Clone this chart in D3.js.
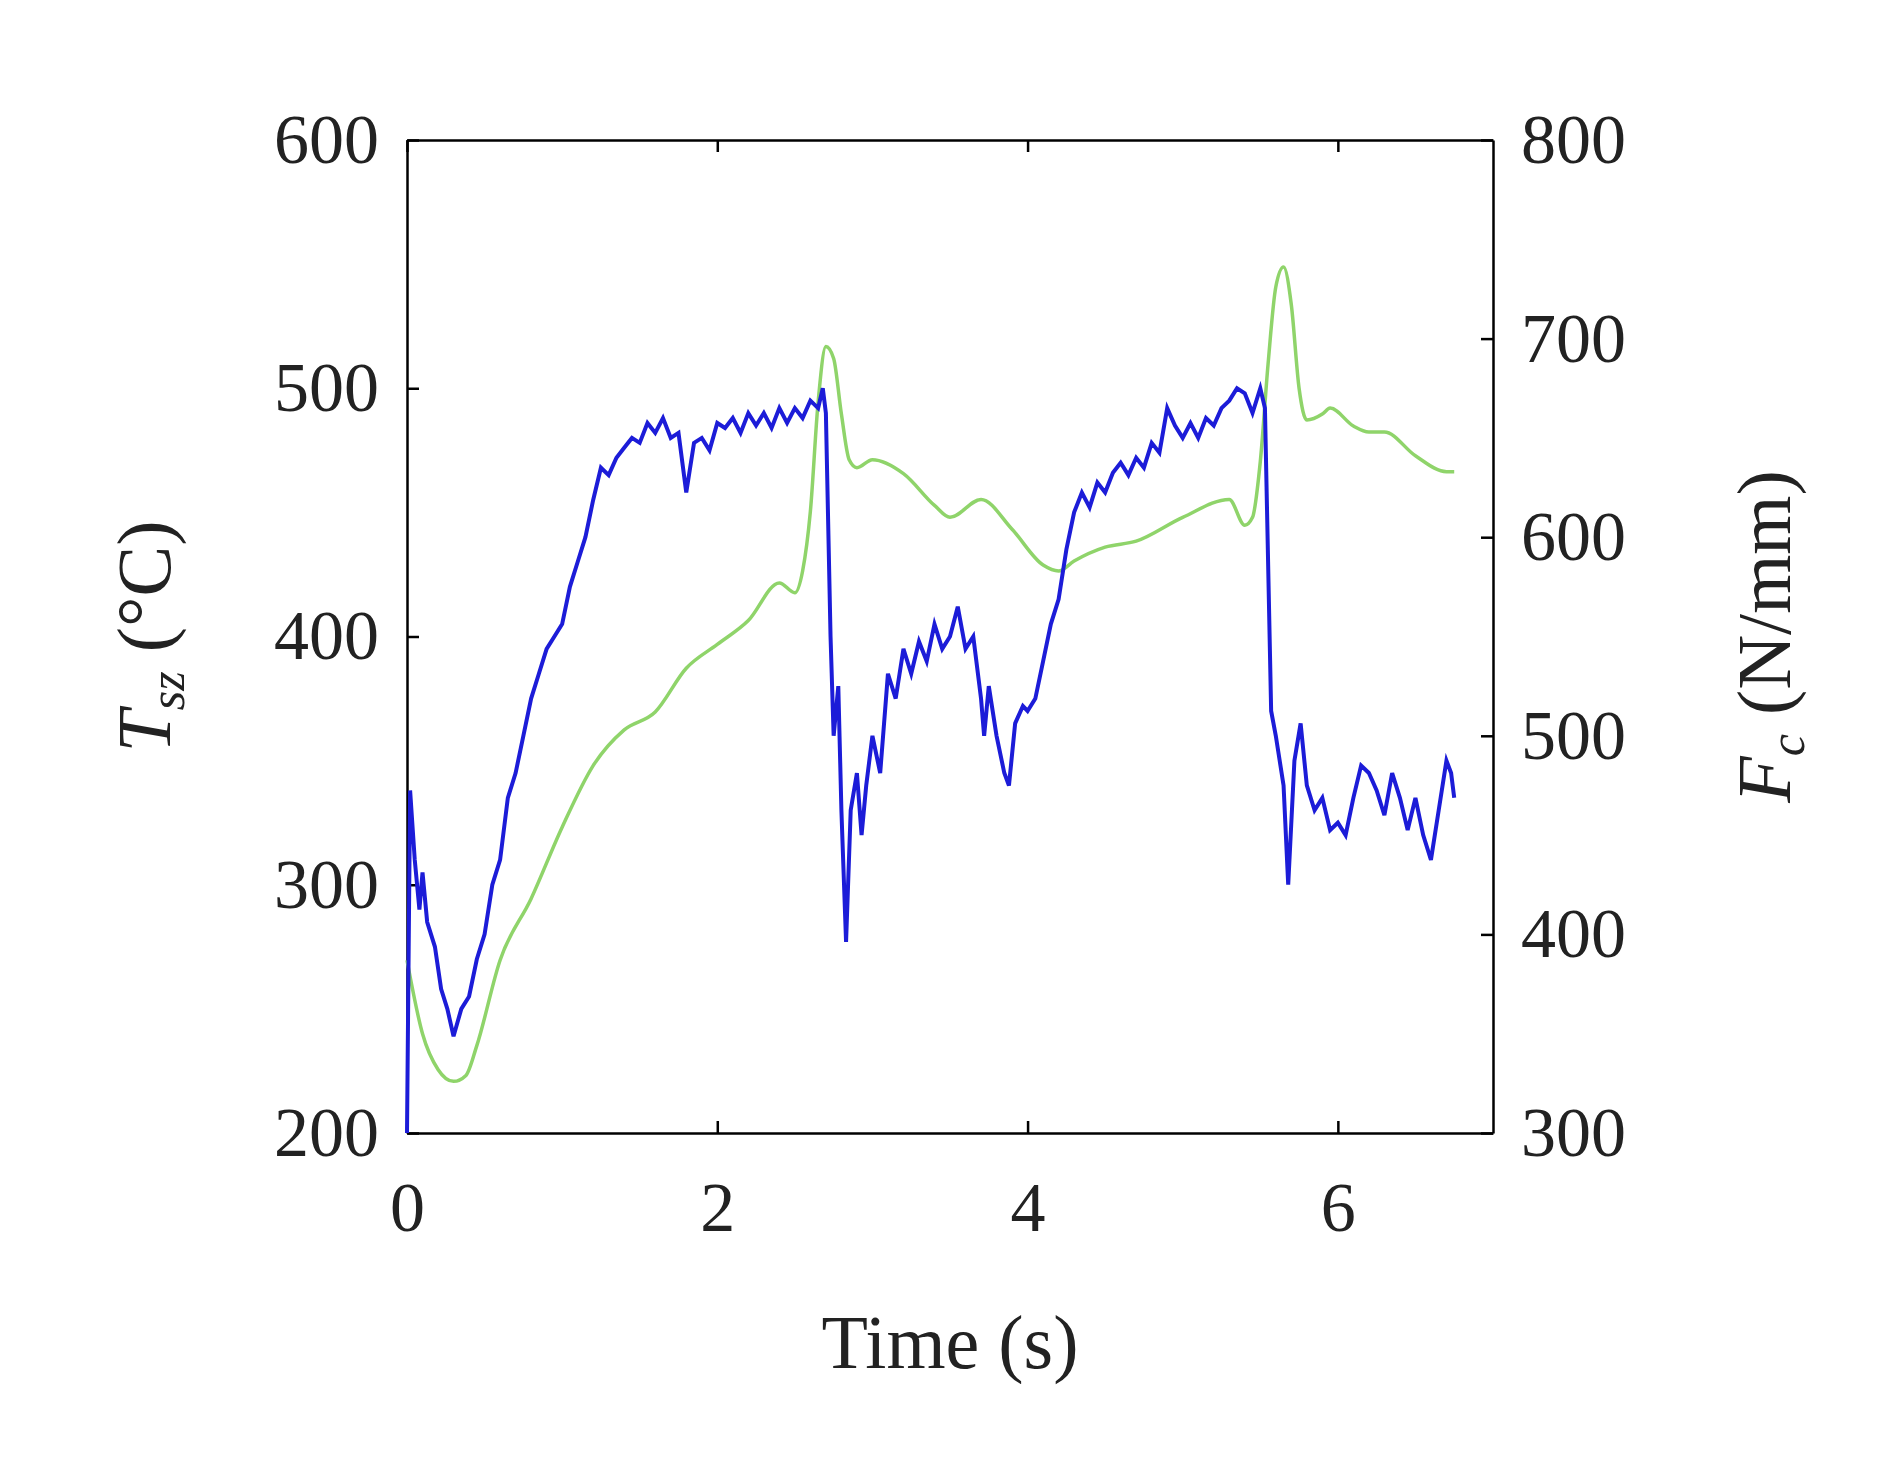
<!DOCTYPE html>
<html><head><meta charset="utf-8">
<script src="https://cdn.jsdelivr.net/npm/d3@7"></script>
<style>body{margin:0;background:#fff}</style></head>
<body><div id="chart"></div>
<script>
// data
const tempTime = [0,0.02,0.05,0.08,0.1,0.13,0.18,0.22,0.26,0.3,0.35,0.4,0.45,0.5,0.55,0.6,0.65,0.7,0.75,0.8,0.85,0.9,0.95,1.0,1.05,1.1,1.15,1.2,1.25,1.3,1.35,1.4,1.45,1.5,1.55,1.6,1.65,1.7,1.75,1.8,1.85,1.9,1.95,2.0,2.05,2.1,2.15,2.2,2.25,2.3,2.35,2.4,2.45,2.5,2.55,2.6,2.65,2.68,2.7,2.73,2.75,2.78,2.8,2.83,2.86,2.9,2.93,2.96,3.0,3.05,3.1,3.15,3.2,3.25,3.3,3.35,3.4,3.45,3.5,3.55,3.6,3.65,3.7,3.72,3.75,3.8,3.85,3.88,3.92,3.97,4.0,4.05,4.1,4.15,4.2,4.25,4.3,4.35,4.4,4.45,4.5,4.55,4.6,4.65,4.7,4.75,4.8,4.85,4.9,4.95,5.0,5.05,5.1,5.15,5.2,5.25,5.3,5.35,5.4,5.45,5.5,5.53,5.57,5.6,5.65,5.68,5.72,5.76,5.8,5.85,5.9,5.95,6.0,6.05,6.1,6.15,6.2,6.25,6.3,6.35,6.4,6.45,6.5,6.55,6.6,6.65,6.7,6.73,6.75];
const tempValues = [200,338,310,290,305,285,275,258,250,239,250,255,270,280,300,310,335,345,360,375,385,395,400,405,420,430,440,455,468,465,472,476,480,478,486,482,488,480,482,458,478,480,475,486,484,488,482,490,485,490,484,492,486,492,488,495,492,500,490,400,360,380,330,277,330,345,320,340,360,345,385,375,395,385,398,390,405,395,400,412,395,400,375,360,380,360,345,340,365,372,370,375,390,405,415,435,450,458,452,462,458,466,470,465,472,468,478,474,492,485,480,486,480,488,485,492,495,500,498,490,500,492,370,360,340,300,350,365,340,330,335,322,325,320,335,348,345,338,328,345,335,322,335,320,310,330,350,345,335];
const forceTime = [0,0.1,0.2,0.3,0.38,0.45,0.6,0.8,1.0,1.2,1.4,1.6,1.8,2.0,2.2,2.4,2.5,2.55,2.6,2.65,2.7,2.75,2.8,2.85,2.9,3.0,3.2,3.4,3.5,3.7,3.9,4.1,4.2,4.3,4.5,4.7,5.0,5.3,5.4,5.45,5.5,5.55,5.6,5.65,5.7,5.75,5.8,5.9,5.95,6.1,6.2,6.3,6.5,6.7,6.75];
const forceValues = [387,350,332,326,329,344,387,418,454,485,503,512,534,546,558,577,572,583,613,668,696,690,662,639,635,639,632,616,610,619,604,586,583,588,595,598,610,619,606,610,638,687,726,736,717,675,659,662,665,656,653,653,641,633,633];
const xTicks = [0,2,4,6];
const leftTicks = [200,300,400,500,600];
const rightTicks = [300,400,500,600,700,800];

const W = 1897, H = 1459;
const m = {left:407, right:1493, top:140, bottom:1133};
const serif = "'Liberation Serif','DejaVu Serif',serif";
const svg = d3.select("#chart").append("svg").attr("width",W).attr("height",H)
  .style("font-family",serif);

const x = d3.scaleLinear().domain([0,7]).range([m.left,m.right]);
const yL = d3.scaleLinear().domain([200,600]).range([m.bottom,m.top]);
const yR = d3.scaleLinear().domain([300,800]).range([m.bottom,m.top]);

const fs = "70px", col = "#222", fmt = d3.format("d");
// axes with inward ticks
function styleAx(g){ g.attr("font-family",serif);
  g.selectAll("path,line").attr("stroke","#000").attr("stroke-width",2.5);
  g.selectAll("text").style("font-size",fs).style("font-family",serif).attr("fill",col); }
svg.append("g").attr("transform",`translate(0,${m.bottom})`)
  .call(d3.axisBottom(x).tickValues(xTicks).tickFormat(fmt).tickSize(-12).tickPadding(48).tickSizeOuter(0)).call(styleAx);
svg.append("g").attr("transform",`translate(0,${m.top})`)
  .call(d3.axisTop(x).tickValues(xTicks).tickSize(-12).tickFormat("").tickSizeOuter(0)).call(styleAx);
svg.append("g").attr("transform",`translate(${m.left},0)`)
  .call(d3.axisLeft(yL).tickValues(leftTicks).tickFormat(fmt).tickSize(-12).tickPadding(28).tickSizeOuter(0)).call(styleAx);
svg.append("g").attr("transform",`translate(${m.right},0)`)
  .call(d3.axisRight(yR).tickValues(rightTicks).tickFormat(fmt).tickSize(-12).tickPadding(28).tickSizeOuter(0)).call(styleAx);

const lineT = d3.line().x((d,i)=>x(tempTime[i])).y(d=>yL(d));
const lineF = d3.line().curve(d3.curveMonotoneX).x((d,i)=>x(forceTime[i])).y(d=>yR(d));
svg.append("path").datum(forceValues).attr("d",lineF).attr("fill","none").attr("stroke","#8fd46a").attr("stroke-width",3.5);
svg.append("path").datum(tempValues).attr("d",lineT).attr("fill","none").attr("stroke","#1c1cd8").attr("stroke-width",4);

// labels
svg.append("text").attr("x",(m.left+m.right)/2).attr("y",1368).attr("text-anchor","middle")
  .style("font-size","76px").attr("fill",col).text("Time (s)");
const lt = svg.append("text").attr("transform",`translate(170,${(m.top+m.bottom)/2}) rotate(-90)`)
  .attr("text-anchor","middle").style("font-size","76px").attr("fill",col);
lt.append("tspan").style("font-style","italic").text("T");
lt.append("tspan").style("font-style","italic").style("font-size","50px").attr("dy",14).text("sz");
lt.append("tspan").attr("dy",-14).text("  (°C)");
const rt = svg.append("text").attr("transform",`translate(1790,${(m.top+m.bottom)/2}) rotate(-90)`)
  .attr("text-anchor","middle").style("font-size","76px").attr("fill",col);
rt.append("tspan").style("font-style","italic").text("F");
rt.append("tspan").style("font-style","italic").style("font-size","50px").attr("dy",14).text("c");
rt.append("tspan").attr("dy",-14).text(" (N/mm)");
</script></body></html>
